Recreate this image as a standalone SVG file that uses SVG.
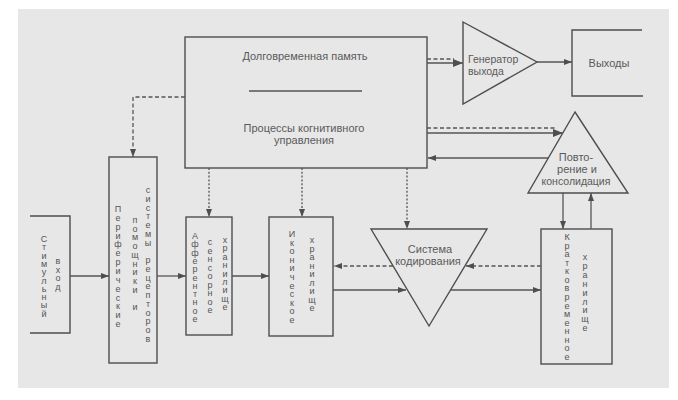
<svg xmlns="http://www.w3.org/2000/svg" width="678" height="400" viewBox="0 0 678 400">
<defs>
<style>
.box{fill:none;stroke:#4e4e4e;stroke-width:1.4}
.ln{fill:none;stroke:#555;stroke-width:1.3}
.dash{stroke-dasharray:4 2.5}
.dot{stroke-dasharray:2 1.8}
.t{font-family:"Liberation Sans","DejaVu Sans",sans-serif;font-size:11px;fill:#5a5a5a;text-anchor:middle}
.v{font-family:"Liberation Sans","DejaVu Sans",sans-serif;font-size:9px;fill:#555;text-anchor:middle}
</style>
<marker id="ah" viewBox="0 0 8 6" refX="8" refY="3" markerWidth="8" markerHeight="6" markerUnits="userSpaceOnUse" orient="auto">
<path d="M0,0 L8,3 L0,6 z" fill="#4e4e4e"/>
</marker>
<marker id="ahb" viewBox="0 0 10 8" refX="10" refY="4" markerWidth="10" markerHeight="8" markerUnits="userSpaceOnUse" orient="auto">
<path d="M0,0 L10,4 L0,8 z" fill="#4e4e4e"/>
</marker>
</defs>
<rect x="0" y="0" width="678" height="400" fill="#ffffff"/>
<rect x="18" y="9" width="651" height="379" fill="#e7e7e7"/>

<g id="stimulus">
<path class="box" d="M30,216 H70 V333 H30"/>
<text class="v" x="44 44 44 44 44 44 44 44 44 44" y="242 250.3 258.6 266.9 275.2 283.5 291.8 300.1 308.4 316.7">Стимульный</text>
<text class="v" x="58 58 58 58" y="264 272.7 281.4 290.1">вход</text>
</g>

<g id="peripheral">
<rect class="box" x="109" y="157" width="48" height="206"/>
<text class="v" x="118 118 118 118 118 118 118 118 118 118 118 118 118 118" y="212 220.85 229.7 238.55 247.4 256.25 265.1 273.95 282.8 291.65 300.5 309.35 318.2 327.05">Периферические</text>
<text class="v" x="135 135 135 135 135 135 135 135 135" y="223 231.7 240.4 249.1 257.8 266.5 275.2 283.9 292.6">помощники</text>
<text class="v" x="135" y="310">и</text>
<text class="v" x="148 148 148 148 148 148 148" y="193 201.76 210.52 219.28 228.04 236.8 245.56">системы</text>
<text class="v" x="148 148 148 148 148 148 148 148 148 148" y="263.08 271.84 280.6 289.36 298.12 306.88 315.64 324.4 333.16 341.92">рецепторов</text>
</g>

<g id="afferent">
<rect class="box" x="186" y="217" width="46" height="118"/>
<text class="v" x="195 195 195 195 195 195 195 195 195 195 195" y="239 247.3 255.6 263.9 272.2 280.5 288.8 297.1 305.4 313.7 322">Афферентное</text>
<text class="v" x="210 210 210 210 210 210 210 210 210" y="245 253.5 262 270.5 279 287.5 296 304.5 313">сенсорное</text>
<text class="v" x="225 225 225 225 225 225 225 225 225" y="243 251.4 259.8 268.2 276.6 285 293.4 301.8 310.2">хранилище</text>
</g>

<g id="iconic">
<rect class="box" x="269" y="217" width="64" height="119"/>
<text class="v" x="292 292 292 292 292 292 292 292 292 292 292" y="237 245.6 254.2 262.8 271.4 280 288.6 297.2 305.8 314.4 323">Иконическое</text>
<text class="v" x="312 312 312 312 312 312 312 312 312" y="243 251.5 260 268.5 277 285.5 294 302.5 311">хранилище</text>
</g>

<g id="memory">
<rect class="box" x="185" y="37" width="242" height="131"/>
<text class="t" x="305" y="60">Долговременная память</text>
<path class="ln" d="M249,91 H362"/>
<text class="t" x="304" y="132">Процессы когнитивного</text>
<text class="t" x="304" y="144">управления</text>
</g>

<g id="generator">
<path class="box" d="M463,22 L537,62 L463,104 Z"/>
<text class="t" x="468" y="63" style="text-anchor:start;font-size:10.5px">Генератор</text>
<text class="t" x="468" y="75" style="text-anchor:start;font-size:10.5px">выхода</text>
</g>

<g id="outputs">
<path class="box" d="M642,30 H572 V96 H643"/>
<text class="t" x="609" y="67">Выходы</text>
</g>

<g id="rehearsal">
<path class="box" d="M575,112 L628,193 L528,193 Z"/>
<text class="t" x="576" y="161">Повто-</text>
<text class="t" x="577" y="173">рение и</text>
<text class="t" x="576" y="185" style="font-size:10.5px">консолидация</text>
</g>

<g id="encoding">
<path class="box" d="M371,229 H487 L429,326 Z"/>
<text class="t" x="430" y="253">Система</text>
<text class="t" x="428" y="265">кодирования</text>
</g>

<g id="stm">
<rect class="box" x="541" y="229" width="71" height="135"/>
<text class="v" x="567 567 567 567 567 567 567 567 567 567 567 567 567 567 567" y="240 248.57 257.14 265.71 274.28 282.85 291.42 300 308.56 317.13 325.7 334.27 342.84 351.41 360">Кратковременное</text>
<text class="v" x="585 585 585 585 585 585 585 585 585" y="260 268.9 277.8 286.7 295.6 304.5 313.4 322.3 331.2">хранилище</text>
</g>

<g id="connectors">
<path class="ln" d="M70,276 H109" marker-end="url(#ah)"/>
<path class="ln" d="M157,276 H186" marker-end="url(#ah)"/>
<path class="ln" d="M232,276 H269" marker-end="url(#ah)"/>
<path class="ln" d="M333,290 H406" marker-end="url(#ah)"/>
<path class="ln" d="M451,290 H541" marker-end="url(#ah)"/>
<path class="ln dash" d="M541,266 H466" marker-end="url(#ah)"/>
<path class="ln dash" d="M393,266 H334" marker-end="url(#ah)"/>
<path class="ln dash" d="M427,59 H454"/>
<path class="ln" d="M427,63 H463" marker-end="url(#ahb)"/>
<path class="ln dash" d="M427,128 H555"/>
<path class="ln" d="M427,133 H563" marker-end="url(#ahb)"/>
<path class="ln" d="M548,158 H428" marker-end="url(#ah)"/>
<path class="ln" d="M537,62 H572" marker-end="url(#ah)"/>
<path class="ln" d="M563,193 V229" marker-end="url(#ah)"/>
<path class="ln" d="M591,229 V193" marker-end="url(#ah)"/>
<path class="ln dash" d="M185,97 H133 V157" marker-end="url(#ah)"/>
<path class="ln dot" d="M209,168 V217" marker-end="url(#ah)"/>
<path class="ln dot" d="M302,168 V217" marker-end="url(#ah)"/>
<path class="ln dot" d="M407,168 V229" marker-end="url(#ah)"/>
</g>
</svg>
